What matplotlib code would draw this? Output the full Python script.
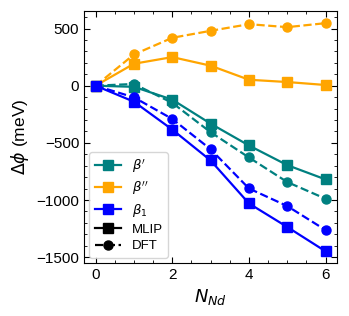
import matplotlib
matplotlib.use("Agg")
import matplotlib.pyplot as plt
from matplotlib.lines import Line2D
from matplotlib.ticker import MultipleLocator

plt.rcParams["font.family"] = ["Liberation Sans", "DejaVu Sans"]
plt.rcParams["mathtext.fontset"] = "dejavusans"

n_nd = [0, 1, 2, 3, 4, 5, 6]
bp_mlip = [0, -10, -122, -332, -523, -695, -820]
bp_dft = [0, 15, -150, -407, -628, -843, -989]
bpp_mlip = [0, 192, 250, 175, 52, 32, 6]
bpp_dft = [0, 273, 419, 480, 538, 512, 547]
b1_mlip = [0, -140, -384, -654, -1030, -1236, -1449]
b1_dft = [0, -102, -291, -556, -899, -1053, -1263]

fig = plt.figure(figsize=(3.49, 3.16), dpi=100)
ax = fig.add_axes([0.241, 0.168, 0.725, 0.796])

ms = 6.5
lw = 1.6
series = [
    (bp_mlip, bp_dft, "teal"),
    (bpp_mlip, bpp_dft, "orange"),
    (b1_mlip, b1_dft, "blue"),
]
for mlip, dft, c in series:
    ax.plot(n_nd, dft, "o--", color=c, ms=ms, lw=lw)
    ax.plot(n_nd, mlip, "s-", color=c, ms=ms, lw=lw)

ax.set_xlim(-0.3, 6.3)
ax.set_ylim(-1550, 650)
ax.set_xticks([0, 2, 4, 6])
ax.set_yticks([-1500, -1000, -500, 0, 500])
ax.xaxis.set_minor_locator(MultipleLocator(0.5))
ax.yaxis.set_minor_locator(MultipleLocator(100))
ax.tick_params(which="both", direction="in", top=True, right=True, labelsize=11)
ax.tick_params(which="major", length=4)
ax.tick_params(which="minor", length=2)
ax.set_xlabel(r"$N_{Nd}$", fontsize=13)
ax.set_ylabel(r"$\Delta\phi$ (meV)", fontsize=12.5)

handles = [
    Line2D([], [], color="teal", marker="s", ms=ms, lw=lw),
    Line2D([], [], color="orange", marker="s", ms=ms, lw=lw),
    Line2D([], [], color="blue", marker="s", ms=ms, lw=lw),
    Line2D([], [], color="black", marker="s", ms=ms, lw=lw),
    Line2D([], [], color="black", marker="o", ms=ms, lw=lw, ls="--"),
]
labels = [r"$\beta'$", r"$\beta''$", r"$\beta_1$", "MLIP", "DFT"]
ax.legend(handles, labels, loc="lower left", fontsize=9.5, handlelength=2,
          labelspacing=0.35, borderaxespad=0.4)

fig.savefig("out.png", dpi=100)
